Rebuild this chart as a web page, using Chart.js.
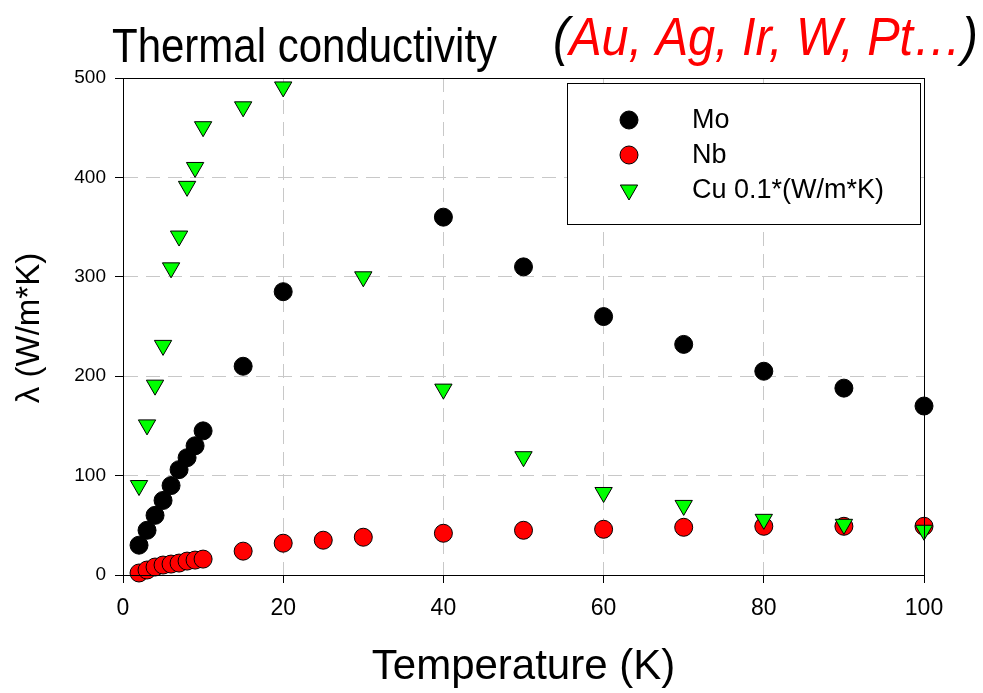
<!DOCTYPE html>
<html>
<head>
<meta charset="utf-8">
<script src="https://cdn.jsdelivr.net/npm/chart.js@4.4.1/dist/chart.umd.min.js"></script>
<style>
  html, body { margin: 0; padding: 0; background: #fff; }
  #wrap { width: 983px; height: 693px; position: relative; }
</style>
</head>
<body>
<div id="wrap"><canvas id="tcChart"></canvas></div>
<script>
// temperatures (K) and conductivities
const moT  = [2, 3, 4, 5, 6, 7, 8, 9, 10, 15, 20, 40, 50, 60, 70, 80, 90, 100];
const moK  = [30, 45, 60, 75, 90, 106, 118, 130, 145, 210, 285, 360, 310, 260, 232, 205, 188, 170];

const nbT  = [2, 3, 4, 5, 6, 7, 8, 9, 10, 15, 20, 25, 30, 40, 50, 60, 70, 80, 90, 100];
const nbK  = [2, 5, 8, 10, 11, 12, 14, 15, 16, 24, 32, 35, 38, 42, 45, 46, 48, 49, 49, 49];

const cuT  = [2, 3, 4, 5, 6, 7, 8, 9, 10, 15, 20, 30, 40, 50, 60, 70, 80, 90, 100];
const cuK  = [90, 151, 191, 231, 309, 341, 391, 410, 451, 471, 491, 300, 187, 119, 83, 70, 56, 51, 45];

const xTicks = [0, 20, 40, 60, 80, 100];
const yTicks = [0, 100, 200, 300, 400, 500];

const toPts = (xs, ys) => xs.map((x, i) => ({x: x, y: ys[i]}));

const FONT = '"Liberation Sans", Arial, sans-serif';

// title, y label, legend box and frame drawn on the canvas
const decorPlugin = {
    id: 'decor',
    afterDraw(chart) {
        const ctx = chart.ctx;
        const area = chart.chartArea;
        ctx.save();

        // frame
        ctx.setLineDash([]);
        ctx.strokeStyle = '#000';
        ctx.lineWidth = 1;
        ctx.strokeRect(area.left + 0.5, area.top + 0.5, area.right - area.left, area.bottom - area.top);

        // title
        ctx.fillStyle = '#000';
        ctx.textBaseline = 'alphabetic';
        ctx.textAlign = 'left';
        ctx.save();
        ctx.translate(112, 62);
        ctx.scale(0.857, 1);
        ctx.font = '49px ' + FONT;
        ctx.fillText('Thermal conductivity', 0, 0);
        ctx.restore();

        ctx.save();
        ctx.translate(553, 55);
        ctx.scale(0.9, 1);
        ctx.font = 'italic 54px ' + FONT;
        let x = 0;
        ctx.fillStyle = '#000';
        ctx.fillText('(', x, 0);
        x += ctx.measureText('(').width;
        ctx.fillStyle = '#ff0000';
        ctx.fillText('Au, Ag, Ir, W, Pt\u2026', x, 0);
        x += ctx.measureText('Au, Ag, Ir, W, Pt\u2026').width;
        ctx.fillStyle = '#000';
        ctx.fillText(')', x, 0);
        ctx.restore();

        // y axis title
        ctx.save();
        ctx.translate(30, 328);
        ctx.rotate(-Math.PI / 2);
        ctx.textAlign = 'center';
        ctx.textBaseline = 'middle';
        ctx.font = '33px ' + FONT;
        ctx.fillStyle = '#000';
        ctx.fillText('\u03bb (W/m*K)', 0, 0);
        ctx.restore();

        // legend
        ctx.fillStyle = '#fff';
        ctx.fillRect(567, 83, 353, 141);
        ctx.strokeStyle = '#000';
        ctx.strokeRect(567.5, 83.5, 353, 141);
        const rows = [120, 155, 190];
        chart.data.datasets.forEach((ds, i) => {
            ctx.fillStyle = ds.backgroundColor;
            ctx.strokeStyle = ds.borderColor;
            ctx.lineWidth = ds.borderWidth;
            Chart.helpers.drawPoint(ctx, {
                pointStyle: ds.pointStyle,
                radius: ds.pointRadius,
                rotation: ds.rotation || 0,
                borderWidth: ds.borderWidth
            }, 629, rows[i]);
            ctx.fillStyle = '#000';
            ctx.font = '27px ' + FONT;
            ctx.textAlign = 'left';
            ctx.textBaseline = 'middle';
            ctx.fillText(ds.label, 692, rows[i] + 1);
        });
        ctx.restore();
    }
};

const gridColor = c => (c.tick.value === c.scale.min || c.tick.value === c.scale.max) ? 'rgba(0,0,0,0)' : '#c8c8c8';

const ctx = document.getElementById('tcChart');
new Chart(ctx, {
    type: 'scatter',
    data: {
        datasets: [
            {
                label: 'Mo',
                data: toPts(moT, moK),
                pointStyle: 'circle',
                pointRadius: 9,
                backgroundColor: '#000000',
                borderColor: '#000000',
                borderWidth: 1,
                clip: false,
                order: 2
            },
            {
                label: 'Nb',
                data: toPts(nbT, nbK),
                pointStyle: 'circle',
                pointRadius: 9,
                backgroundColor: '#ff0000',
                borderColor: '#000000',
                borderWidth: 1,
                clip: false,
                order: 1
            },
            {
                label: 'Cu 0.1*(W/m*K)',
                data: toPts(cuT, cuK),
                pointStyle: 'triangle',
                rotation: 180,
                pointRadius: 10,
                backgroundColor: '#00ff00',
                borderColor: '#000000',
                borderWidth: 1,
                clip: false,
                order: 0
            }
        ]
    },
    options: {
        responsive: true,
        maintainAspectRatio: false,
        animation: false,
        layout: { padding: { left: 0, top: 78, right: 59, bottom: 0 } },
        scales: {
            x: {
                type: 'linear',
                min: 0,
                max: 100,
                afterFit: s => { s.height = 118; },
                afterBuildTicks: s => { s.ticks = xTicks.map(v => ({value: v})); },
                border: { display: true, color: '#000', width: 1, dash: [14, 8] },
                grid: {
                    color: gridColor,
                    lineWidth: 1,
                    drawTicks: true,
                    tickLength: 8,
                    tickColor: '#000',
                    tickBorderDash: [1, 0]
                },
                ticks: { color: '#000', padding: 12, font: { family: FONT, size: 23 } },
                title: {
                    display: true,
                    text: 'Temperature (K)',
                    color: '#000',
                    font: { family: FONT, size: 42 },
                    padding: { top: 14, bottom: 0 }
                }
            },
            y: {
                type: 'linear',
                min: 0,
                max: 500,
                afterFit: s => { s.width = 123; },
                afterBuildTicks: s => { s.ticks = yTicks.map(v => ({value: v})); },
                border: { display: true, color: '#000', width: 1, dash: [14, 8] },
                grid: {
                    color: gridColor,
                    lineWidth: 1,
                    drawTicks: true,
                    tickLength: 8,
                    tickColor: '#000',
                    tickBorderDash: [1, 0]
                },
                ticks: { color: '#000', padding: 9, font: { family: FONT, size: 19 } }
            }
        },
        plugins: {
            legend: { display: false },
            tooltip: { enabled: false }
        }
    },
    plugins: [decorPlugin]
});
</script>
</body>
</html>
